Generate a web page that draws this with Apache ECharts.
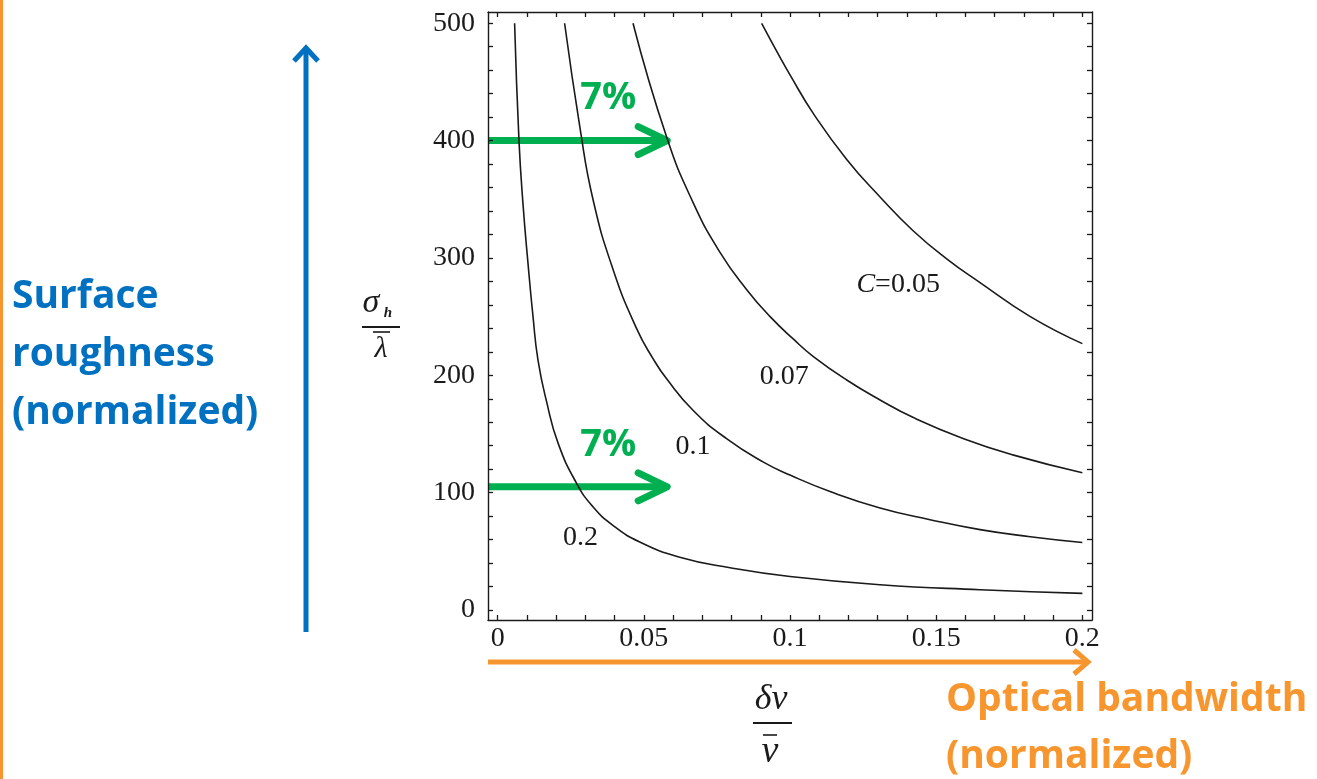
<!DOCTYPE html>
<html><head><meta charset="utf-8">
<script src="https://cdn.jsdelivr.net/npm/echarts@6/dist/echarts.min.js"></script>
<style>html,body{margin:0;padding:0;background:#fff;overflow:hidden}#c{width:1317px;height:779px}</style>
</head><body><div id="c"></div>
<script>
// ---- tick values / labels ----
const xTickValues = [0, 0.05, 0.1, 0.15, 0.2];
const xTickLabels = ['0', '0.05', '0.1', '0.15', '0.2'];
const xAllTicks = [0,0.01,0.02,0.03,0.04,0.05,0.06,0.07,0.08,0.09,0.1,0.11,0.12,0.13,0.14,0.15,0.16,0.17,0.18,0.19,0.2];
const yTickValues = [0, 100, 200, 300, 400, 500];
const yAllTicks = [0,20,40,60,80,100,120,140,160,180,200,220,240,260,280,300,320,340,360,380,400,420,440,460,480,500];
const xRange = [-0.0033, 0.2033];
const yRange = [-8.5, 509.6];

// ---- curves (delta nu / nu, sigma_h / lambda) ----
const curveC005 = [[0.0903,500],[0.0966,471],[0.1,456],[0.108,423],[0.1194,384],[0.1308,352],[0.1422,323],[0.1537,299],[0.165,279],[0.1822,250],[0.2,227]];
const curveC007 = [[0.0463,500],[0.0578,403],[0.0669,347],[0.076,305],[0.0852,273],[0.0932,250],[0.1011,231],[0.108,216],[0.1194,196],[0.1308,179],[0.1422,164],[0.1594,146],[0.1765,132],[0.2,117]];
const curveC01 = [[0.0229,500],[0.0281,412],[0.0326,350],[0.0395,290],[0.0475,240],[0.0532,214],[0.0578,197],[0.0669,170],[0.0783,146],[0.0909,126],[0.1,115],[0.1137,101],[0.1308,87],[0.1479,77],[0.165,68.5],[0.1822,62.5],[0.2,57.5]];
const curveC02 = [[0.0058,500],[0.0073,400],[0.0087,345],[0.0104,295],[0.0121,250],[0.0138,213],[0.0167,178],[0.0207,142],[0.027,108],[0.0326,88],[0.0395,72],[0.0486,58],[0.0623,45],[0.0795,36],[0.1,28.5],[0.1308,21.5],[0.165,17.3],[0.2,14.2]];

// ---- curve labels ----
const labelTexts = ['{i|C}=0.05', '0.07', '0.1', '0.2'];
const labelPos = [[0.137, 277], [0.098, 198.5], [0.0668, 139], [0.0283, 61.3]];

// ---- green 7% arrows ----
const arrowRows = [400, 105];
const arrowEndX = 0.058;
const arrowText = '7%';

const ink = '#1a1a1a';
const serif = '"Liberation Serif", "DejaVu Serif", serif';
const blue = '#0070C0', orange = '#F7962E', green = '#00B050';

const chart = echarts.init(document.getElementById('c'), null, {renderer: 'canvas'});

function mkX(pos, showLabel) {
  return {
    type: 'value', position: pos, min: xRange[0], max: xRange[1],
    axisLine: {show: true, onZero: false, lineStyle: {color: ink, width: 1.4}},
    axisTick: {show: true, inside: true, length: 5, customValues: xAllTicks, lineStyle: {color: ink, width: 1.3}},
    axisLabel: {show: showLabel, customValues: xTickValues, margin: 5,
      formatter: v => { const i = xTickValues.findIndex(t => Math.abs(t - v) < 1e-9); return i >= 0 ? xTickLabels[i] : ''; },
      fontFamily: serif, fontSize: 28, color: ink},
    splitLine: {show: false}
  };
}
function mkY(pos, showLabel) {
  return {
    type: 'value', position: pos, min: yRange[0], max: yRange[1],
    axisLine: {show: true, onZero: false, lineStyle: {color: ink, width: 1.4}},
    axisTick: {show: true, inside: true, length: 5, customValues: yAllTicks, lineStyle: {color: ink, width: 1.3}},
    axisLabel: {show: showLabel, customValues: yTickValues, margin: 13,
      fontFamily: serif, fontSize: 28, color: ink},
    splitLine: {show: false}
  };
}
function mkSeries(data) {
  return {type: 'line', data: data, xAxisIndex: 0, yAxisIndex: 0, showSymbol: false, symbol: 'none',
    smooth: 0.5, lineStyle: {color: ink, width: 1.6}, silent: true, animation: false};
}

chart.setOption({
  animation: false,
  backgroundColor: '#fff',
  grid: {left: 488, right: 225, top: 12, bottom: 159, containLabel: false},
  xAxis: [mkX('bottom', true), mkX('top', false)],
  yAxis: [mkY('left', true), mkY('right', false)],
  series: [mkSeries(curveC005), mkSeries(curveC007), mkSeries(curveC01), mkSeries(curveC02)]
});

const px = p => chart.convertToPixel({gridIndex: 0}, p);
const g = [];
// orange left border line
g.push({type: 'rect', shape: {x: 0, y: 0, width: 3, height: 779}, style: {fill: orange}});
// blue vertical arrow
g.push({type: 'line', shape: {x1: 306, y1: 632, x2: 306, y2: 48}, style: {stroke: blue, lineWidth: 5}});
g.push({type: 'polyline', shape: {points: [[294, 61], [306, 48], [318, 61]]}, style: {stroke: blue, lineWidth: 5, fill: null, lineJoin: 'miter'}});
// blue text
['Surface', 'roughness', '(normalized)'].forEach((t, i) => {
  g.push({type: 'text', x: 12, y: [297, 355, 413][i], style: {text: t, fill: blue, font: 'bold 39px "Open Sans", sans-serif', textAlign: 'left', textVerticalAlign: 'middle'}});
});
// orange horizontal arrow
const gl = px([xRange[0], 0])[0];
g.push({type: 'line', shape: {x1: gl, y1: 662, x2: 1088, y2: 662}, style: {stroke: orange, lineWidth: 5}});
g.push({type: 'polyline', shape: {points: [[1074, 650], [1088, 662], [1074, 674]]}, style: {stroke: orange, lineWidth: 5, fill: null, lineJoin: 'miter'}});
['Optical bandwidth', '(normalized)'].forEach((t, i) => {
  g.push({type: 'text', x: 946, y: [700, 757][i], style: {text: t, fill: orange, font: 'bold 39px "Open Sans", sans-serif', textAlign: 'left', textVerticalAlign: 'middle'}});
});
// green arrows
arrowRows.forEach(r => {
  const tip = px([arrowEndX, r]);
  g.push({type: 'line', shape: {x1: gl, y1: tip[1], x2: tip[0] - 3, y2: tip[1]}, style: {stroke: green, lineWidth: 7}});
  g.push({type: 'polyline', shape: {points: [[tip[0] - 29, tip[1] - 14], [tip[0], tip[1]], [tip[0] - 29, tip[1] + 14]]}, style: {stroke: green, lineWidth: 7, fill: null, lineCap: 'round', lineJoin: 'round'}});
  g.push({type: 'text', x: tip[0] - 59, y: tip[1] - 42, style: {text: arrowText, fill: green, font: 'bold 38px "Open Sans", sans-serif', textAlign: 'center', textVerticalAlign: 'middle'}});
});
// curve labels
labelTexts.forEach((t, i) => {
  const p = px(labelPos[i]);
  g.push({type: 'text', x: p[0], y: p[1], style: {text: t, fill: ink, font: '28px ' + serif, textAlign: 'center', textVerticalAlign: 'middle',
    rich: {i: {fontStyle: 'italic', fontFamily: serif, fontSize: 28, fill: ink}}}});
});
// y axis fraction sigma_h / lambda-bar
g.push({type: 'text', x: 371, y: 303, style: {text: 'σ', fill: ink, font: 'italic 34px ' + serif, textAlign: 'center', textVerticalAlign: 'middle'}});
g.push({type: 'text', x: 388, y: 313, style: {text: 'h', fill: ink, font: 'italic bold 15px ' + serif, textAlign: 'center', textVerticalAlign: 'middle'}});
g.push({type: 'line', shape: {x1: 362, y1: 327, x2: 400, y2: 327}, style: {stroke: ink, lineWidth: 1.8}});
g.push({type: 'line', shape: {x1: 373, y1: 332, x2: 390, y2: 332}, style: {stroke: ink, lineWidth: 1.6}});
g.push({type: 'text', x: 381, y: 349, style: {text: 'λ', fill: ink, font: 'italic 30px ' + serif, textAlign: 'center', textVerticalAlign: 'middle'}});
// x axis fraction delta nu / nu-bar
g.push({type: 'text', x: 771, y: 700, style: {text: 'δν', fill: ink, font: 'italic 36px ' + serif, textAlign: 'center', textVerticalAlign: 'middle'}});
g.push({type: 'line', shape: {x1: 753, y1: 723, x2: 792, y2: 723}, style: {stroke: ink, lineWidth: 1.8}});
g.push({type: 'line', shape: {x1: 763, y1: 735, x2: 777, y2: 735}, style: {stroke: ink, lineWidth: 1.6}});
g.push({type: 'text', x: 770, y: 752, style: {text: 'ν', fill: ink, font: 'italic 38px ' + serif, textAlign: 'center', textVerticalAlign: 'middle'}});

chart.setOption({graphic: g});
</script></body></html>
